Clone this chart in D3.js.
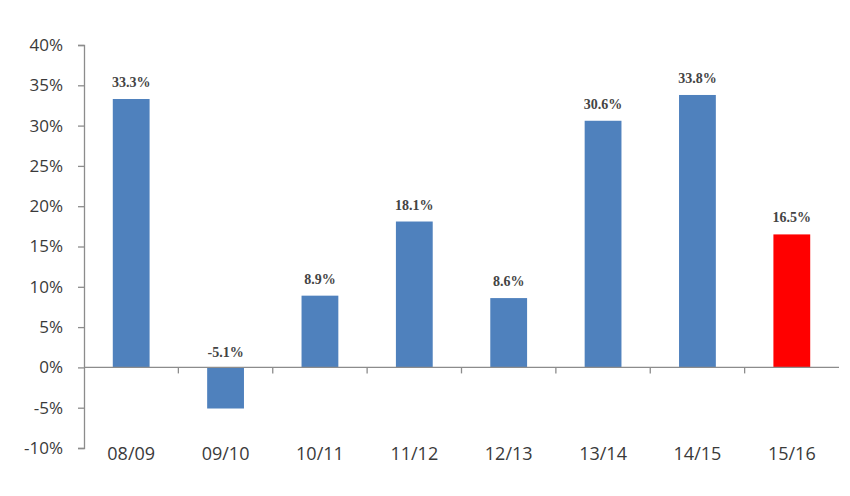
<!DOCTYPE html>
<html><head><meta charset="utf-8">
<script src="https://cdn.jsdelivr.net/npm/d3@7"></script>
<style>body{margin:0;background:#fff}</style>
</head><body>
<svg id="c" width="850" height="496"></svg>
<script>
const categories = ["08/09","09/10","10/11","11/12","12/13","13/14","14/15","15/16"];
const values = [33.3,-5.1,8.9,18.1,8.6,30.6,33.8,16.5];
const labels = ["33.3%","-5.1%","8.9%","18.1%","8.6%","30.6%","33.8%","16.5%"];
const yTicks = [-10,-5,0,5,10,15,20,25,30,35,40];
const highlight = ["15/16"];

const svg = d3.select("#c");
const x = d3.scaleBand().domain(categories).range([84, 839]).paddingInner(0.61).paddingOuter(0.305);
const y = d3.scaleLinear().domain([-10, 40]).range([448, 45]);

// y axis
const ya = svg.append("g").attr("transform","translate(84,0)")
  .call(d3.axisLeft(y).tickValues(yTicks).tickSize(6).tickPadding(15).tickFormat(d => d + "%"));
ya.select(".domain").attr("stroke","#8c8c8c").attr("stroke-width",1.3);
ya.selectAll(".tick line").attr("stroke","#8c8c8c").attr("stroke-width",1.3);
ya.selectAll(".tick text").attr("fill","#3a3a3a").style("font-family","'Open Sans'").style("font-size","17px");

// bars
svg.selectAll("rect.bar").data(values).enter().append("rect")
  .attr("x",(d,i)=>x(categories[i]))
  .attr("width",x.bandwidth())
  .attr("y",d=>y(Math.max(0,d)))
  .attr("height",d=>Math.abs(y(d)-y(0)))
  .attr("fill",(d,i)=>highlight.includes(categories[i]) ? "#ff0000" : "#4f81bd");

// x axis at zero
const step = x.step();
const xa = svg.append("g").attr("transform",`translate(0,${y(0)})`);
xa.append("line").attr("x1",84).attr("x2",839).attr("stroke","#8c8c8c").attr("stroke-width",1.3);
categories.forEach((c,i)=>{
  if(i>0){
    const bx = x(c) - (step - x.bandwidth())/2;
    xa.append("line").attr("x1",bx).attr("x2",bx).attr("y1",0).attr("y2",6).attr("stroke","#8c8c8c").attr("stroke-width",1.3);
  }
});

// category labels
svg.selectAll("text.cat").data(categories).enter().append("text")
  .attr("x",d=>x(d)+x.bandwidth()/2).attr("y",460)
  .attr("text-anchor","middle").attr("fill","#3a3a3a")
  .style("font-family","'Open Sans'").style("font-size","18px").text(d=>d);

// data labels
svg.selectAll("text.val").data(values).enter().append("text")
  .attr("x",(d,i)=>x(categories[i])+x.bandwidth()/2)
  .attr("y",d=> d>=0 ? y(d)-12 : y(0)-10)
  .attr("text-anchor","middle").attr("fill","#444")
  .style("font-family","'Liberation Serif'").style("font-weight","bold").style("font-size","14px")
  .text((d,i)=>labels[i]);
</script>
</body></html>
